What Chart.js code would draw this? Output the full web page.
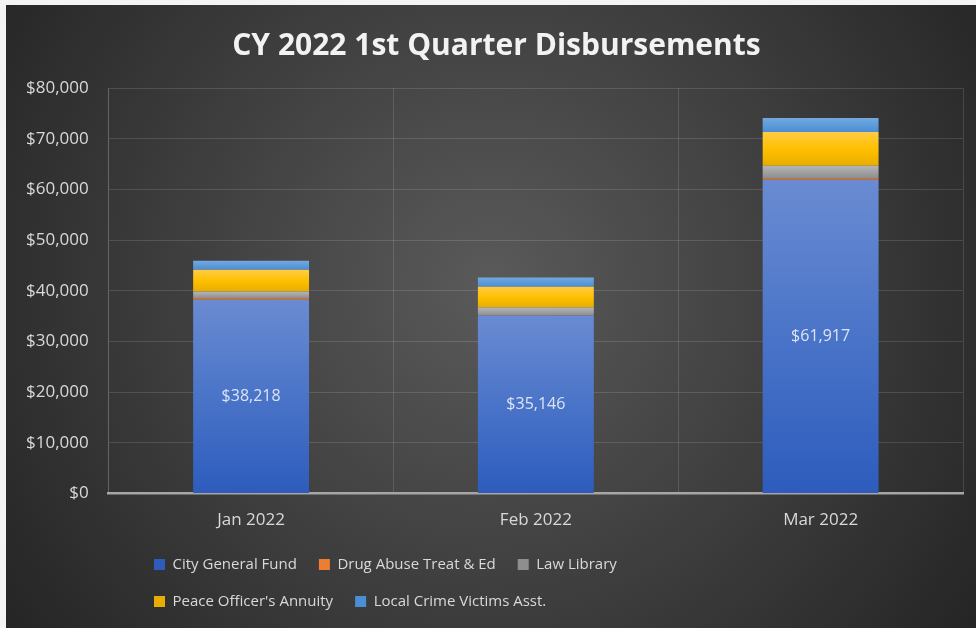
<!DOCTYPE html>
<html>
<head>
<meta charset="utf-8">
<script src="https://cdn.jsdelivr.net/npm/chart.js@4.4.1/dist/chart.umd.min.js"></script>
<style>
  body { margin: 0; background: #f4f4f4; }
  #box { position: absolute; left: 6px; top: 5px; width: 970px; height: 623px; }
</style>
</head>
<body>
<div id="box"><canvas id="myChart"></canvas></div>
<script>
const months = ['Jan 2022', 'Feb 2022', 'Mar 2022'];
const generalFund = [38218, 35146, 61917];
const drugAbuse = [300, 0, 300];
const lawLibrary = [1350, 1560, 2470];
const peaceOfficer = [4270, 4080, 6640];
const crimeVictims = [1770, 1830, 2760];
const yTicks = [0, 10000, 20000, 30000, 40000, 50000, 60000, 70000, 80000];

const allSeries = [generalFund, drugAbuse, lawLibrary, peaceOfficer, crimeVictims];

// vertical gradient over each stacked segment
function segmentFill(stops, flat)
{
    return function(c) {
        const chart = c.chart;
        const y = chart.scales && chart.scales.y;
        if (!chart.chartArea || !y || c.dataIndex === undefined || c.type !== 'data') return flat;
        let base = 0;
        for (let i = 0; i < c.datasetIndex; i++) base += allSeries[i][c.dataIndex];
        const v = allSeries[c.datasetIndex][c.dataIndex];
        const y0 = y.getPixelForValue(base);
        const y1 = y.getPixelForValue(base + v);
        if (!isFinite(y0) || !isFinite(y1) || y0 === y1) return flat;
        const g = chart.ctx.createLinearGradient(0, y1, 0, y0);
        stops.forEach(s => g.addColorStop(s[0], s[1]));
        return g;
    };
}

const background = {
    id: 'background',
    beforeDraw(chart) {
        const {ctx, width, height} = chart;
        const g = ctx.createRadialGradient(width * 0.5, height * 0.45, 0, width * 0.5, height * 0.45, width * 0.62);
        g.addColorStop(0, '#5a5a5a');
        g.addColorStop(1, '#242424');
        ctx.save();
        ctx.fillStyle = g;
        ctx.fillRect(0, 0, width, height);
        ctx.restore();
    }
};

// legend in two rows, starting under the first bar; title nudged right
const legendLayout = {
    id: 'legendLayout',
    afterInit(chart) {
        const legend = chart.legend;
        const fit = legend.fit;
        legend.fit = function() {
            const full = this.maxWidth;
            this.maxWidth = 600;
            fit.call(this);
            this.maxWidth = full;
            this.width = full;
            this.height = 82;
        };
    },
    afterLayout(chart) {
        const legend = chart.legend;
        legend.left += 126;
        legend.right = legend.left + 600;
        legend.top -= 11;
        legend.bottom -= 11;
        chart.titleBlock.left += 12;
        chart.titleBlock.right += 12;
    }
};

const valueLabels = {
    id: 'valueLabels',
    afterDatasetsDraw(chart) {
        const ctx = chart.ctx;
        const meta = chart.getDatasetMeta(0);
        ctx.save();
        ctx.font = '16px "Open Sans"';
        ctx.fillStyle = '#dce4f4';
        ctx.textAlign = 'center';
        ctx.textBaseline = 'middle';
        meta.data.forEach((bar, i) => {
            const p = bar.getProps(['x', 'y', 'base'], true);
            ctx.fillText('$' + generalFund[i].toLocaleString('en-US'), p.x, (p.y + p.base) / 2);
        });
        ctx.restore();
    }
};

function drawChart()
{
    const gridColor = 'rgba(255,255,255,0.13)';
    const data = {
        labels: months,
        datasets: [
            {
                label: 'City General Fund',
                data: generalFund,
                backgroundColor: segmentFill([[0, '#6a8bd2'], [0.5, '#4a74c8'], [1, '#2d5cbd']], '#4472c4')
            },
            {
                label: 'Drug Abuse Treat & Ed',
                data: drugAbuse,
                backgroundColor: '#ed7d31'
            },
            {
                label: 'Law Library',
                data: lawLibrary,
                backgroundColor: segmentFill([[0, '#b6b6b6'], [1, '#8e8e8e']], '#a5a5a5')
            },
            {
                label: "Peace Officer's Annuity",
                data: peaceOfficer,
                backgroundColor: segmentFill([[0, '#ffcb45'], [0.5, '#ffc000'], [1, '#e8ad00']], '#ffc000')
            },
            {
                label: 'Local Crime Victims Asst.',
                data: crimeVictims,
                backgroundColor: segmentFill([[0, '#73a9df'], [1, '#4a8ed4']], '#5b9bd5')
            }
        ]
    };

    const config = {
        type: 'bar',
        data: data,
        plugins: [background, legendLayout, valueLabels],
        options: {
            responsive: true,
            maintainAspectRatio: false,
            animation: false,
            barPercentage: 0.407,
            categoryPercentage: 1,
            layout: { padding: { left: 0, right: 13, top: 0, bottom: 0 } },
            scales: {
                x: {
                    stacked: true,
                    grid: { offset: true, color: gridColor, drawTicks: false },
                    border: { color: '#a6a6a6', width: 2.5 },
                    ticks: { color: '#d9d9d9', font: { size: 17, family: 'Open Sans' }, padding: 16 }
                },
                y: {
                    stacked: true,
                    min: 0,
                    max: 80000,
                    afterBuildTicks: axis => { axis.ticks = yTicks.map(v => ({ value: v })); },
                    grid: { color: gridColor, drawTicks: false },
                    border: { color: gridColor },
                    ticks: {
                        color: '#d9d9d9',
                        font: { size: 17, family: 'Open Sans' },
                        padding: 20,
                        callback: v => '$' + v.toLocaleString('en-US')
                    }
                }
            },
            plugins: {
                title: {
                    display: true,
                    text: 'CY 2022 1st Quarter Disbursements',
                    color: '#f2f2f2',
                    font: { size: 30, weight: 'bold', family: 'Open Sans' },
                    padding: { top: 23, bottom: 24 }
                },
                legend: {
                    position: 'bottom',
                    align: 'start',
                    labels: {
                        color: '#d9d9d9',
                        font: { size: 15, family: 'Open Sans' },
                        boxWidth: 11,
                        boxHeight: 11,
                        padding: 22
                    }
                },
                tooltip: { enabled: false }
            }
        }
    };

    new Chart(document.getElementById('myChart'), config);
}

window.onload = drawChart;
</script>
</body>
</html>
